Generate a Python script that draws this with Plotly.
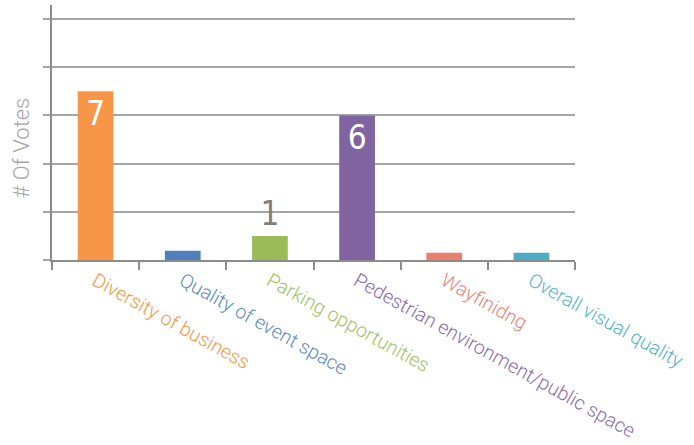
import plotly.graph_objects as go

# Survey results: votes per improvement category
categories = [
    "Diversity of business",
    "Quality of event space",
    "Parking opportunities",
    "Pedestrian environment/public space",
    "Wayfinidng",
    "Overall visual quality",
]
votes = [7, 0.38, 1, 6, 0.3, 0.3]
value_labels = ["7", "", "1", "6", "", ""]
label_positions = ["inside", "none", "outside", "inside", "none", "none"]

bar_colors = ["#F79646", "#4F81BD", "#9BBB59", "#8064A2", "#EB7E6E", "#4BACC6"]
tick_colors = ["#F79646", "#5B8BC6", "#A3C266", "#8A6CAE", "#EE8272", "#52B3CC"]

ticktext = [
    f'<span style="color:{c}">{name}</span>' for name, c in zip(categories, tick_colors)
]

grid_gray = "#A6A6A6"
axis_gray = "#8C8C8C"
digit_font = "DejaVu Sans Condensed, Liberation Sans Narrow, Roboto"

fig = go.Figure(
    go.Bar(
        x=categories,
        y=votes,
        marker=dict(color=bar_colors, line=dict(width=0)),
        width=0.41,
        text=value_labels,
        textposition=label_positions,
        insidetextanchor="end",
        constraintext="none",
        cliponaxis=False,
        insidetextfont=dict(color="white", size=33, family=digit_font),
        outsidetextfont=dict(color="#7F7F7F", size=33, family=digit_font),
    )
)

fig.update_layout(
    width=694,
    height=445,
    margin=dict(l=52, r=119, t=5, b=185),
    paper_bgcolor="white",
    plot_bgcolor="white",
    showlegend=False,
    bargap=0.59,
    font=dict(family="Roboto", weight=300),
)

fig.update_xaxes(
    type="category",
    tickmode="array",
    tickvals=categories,
    ticktext=ticktext,
    tickangle=29,
    tickson="boundaries",
    ticks="outside",
    ticklen=8,
    tickwidth=2,
    tickcolor=axis_gray,
    showline=True,
    linecolor=axis_gray,
    linewidth=2,
    showgrid=False,
    automargin=False,
    tickfont=dict(size=19.5, family="Roboto", weight=300),
)

fig.update_yaxes(
    range=[0, 10.58],
    tick0=0,
    dtick=2,
    showticklabels=False,
    ticks="outside",
    ticklen=7,
    tickwidth=2,
    tickcolor=grid_gray,
    showgrid=True,
    gridcolor=grid_gray,
    gridwidth=2,
    zeroline=False,
    showline=True,
    linecolor=axis_gray,
    linewidth=2,
    automargin=False,
)

fig.add_annotation(
    text="# Of Votes",
    textangle=-90,
    xref="paper", yref="paper",
    x=-0.058, y=0.44,
    xanchor="center", yanchor="middle",
    showarrow=False,
    font=dict(size=22, color="#A6A6A6", family="Roboto", weight=300),
)

fig.write_html("out.html")
